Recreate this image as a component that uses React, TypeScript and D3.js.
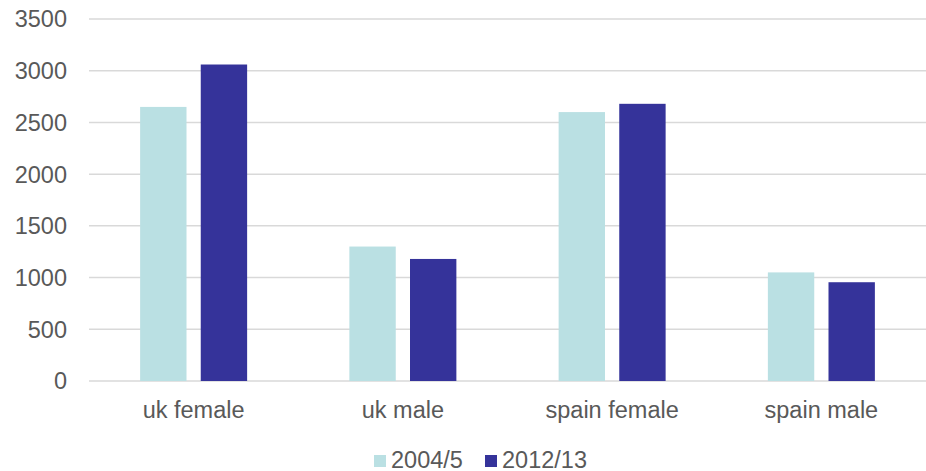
import React from "react";
import * as d3 from "d3";

const categories = ["uk female", "uk male", "spain female", "spain male"];
const seriesNames = ["2004/5", "2012/13"];
const values2004 = [2650, 1300, 2600, 1050];
const values2012 = [3060, 1180, 2680, 955];
const yTicks = [0, 500, 1000, 1500, 2000, 2500, 3000, 3500];
const colors = ["#BAE0E3", "#35339A"];

const W = 926;
const H = 471;
const left = 89;
const right = 926;
const top = 19;
const bottom = 381;
const font = "Arial, 'Liberation Sans', sans-serif";
const textColor = "#595959";
const fs = 23.5;

export default function App() {
  const x = d3.scaleBand<string>().domain(categories).range([left, right]).paddingInner(0).paddingOuter(0);
  const y = d3.scaleLinear().domain([0, 3500]).range([bottom, top]);
  const groupW = 107;
  const inner = d3.scaleBand<string>().domain(seriesNames).range([0, groupW]).paddingInner(0.235).paddingOuter(0);
  const series = [values2004, values2012];

  return (
    <svg width={W} height={H} style={{ position: "absolute", left: 0, top: 0 }}>
      <rect width={W} height={H} fill="#fff" />
      {yTicks.map((t) => (
        <g key={t}>
          <line x1={left} x2={right} y1={y(t)} y2={y(t)} stroke="#d9d9d9" strokeWidth={1.5} />
          <text x={67} y={y(t)} dy="0.36em" textAnchor="end" fontFamily={font} fontSize={fs} fill={textColor}>
            {t}
          </text>
        </g>
      ))}
      {categories.map((c, i) => {
        const cx = (x(c) as number) + x.bandwidth() / 2;
        const gx = cx - groupW / 2;
        return (
          <g key={c}>
            {series.map((vals, s) => (
              <rect
                key={s}
                x={gx + (inner(seriesNames[s]) as number)}
                y={y(vals[i])}
                width={inner.bandwidth()}
                height={y(0) - y(vals[i])}
                fill={colors[s]}
              />
            ))}
            <text x={cx} y={418} textAnchor="middle" fontFamily={font} fontSize={fs} fill={textColor}>
              {c}
            </text>
          </g>
        );
      })}
      {seriesNames.map((n, s) => {
        const lx = [374, 485][s];
        return (
          <g key={n}>
            <rect x={lx} y={455} width={12} height={12} fill={colors[s]} />
            <text x={lx + 17} y={467.5} fontFamily={font} fontSize={fs} fill={textColor}>
              {n}
            </text>
          </g>
        );
      })}
    </svg>
  );
}
